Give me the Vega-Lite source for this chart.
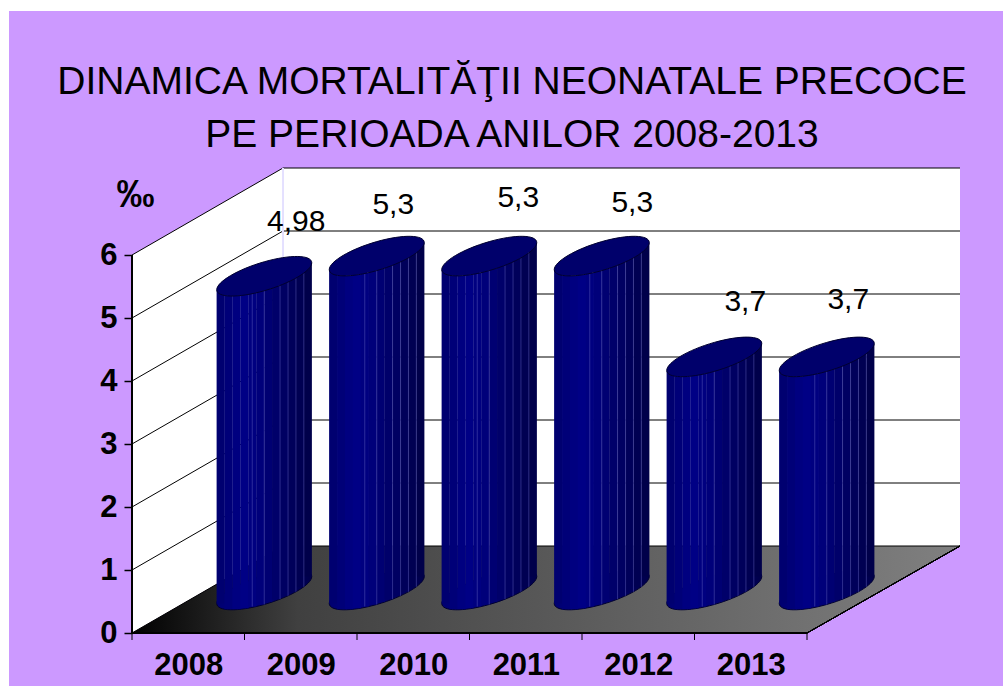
{"$schema":"https://vega.github.io/schema/vega-lite/v6.json","width":828,"height":465,"autosize":{"type":"none"},"padding":{"left":132,"top":168,"right":43,"bottom":53},"background":"#CC99FF","view":{"stroke":null},
"title":{"text":["DINAMICA MORTALITĂŢII NEONATALE PRECOCE","PE PERIOADA ANILOR 2008-2013"],"font":"Liberation Sans","fontSize":39,"fontWeight":"normal","color":"#000000","anchor":"middle","frame":"group","baseline":"bottom","dx":-34,"offset":-194,"lineHeight":53},
"data":{"values":[{"year":2008,"value":4.98,"label":"4,98"},{"year":2009,"value":5.3,"label":"5,3"},{"year":2010,"value":5.3,"label":"5,3"},{"year":2011,"value":5.3,"label":"5,3"},{"year":2012,"value":3.7,"label":"3,7"},{"year":2013,"value":3.7,"label":"3,7"}]},
"layer":[
{"mark":{"type":"rect","fill":"#ffffff","xOffset":-132,"x2Offset":43,"yOffset":-168,"y2Offset":-157},"encoding":{"x":{"datum":2007.5,"type":"quantitative","scale":{"domain":[2007.5,2014.86],"nice":false,"zero":false},"axis":{"values":[2008,2009,2010,2011,2012,2013],"format":"d","title":null,"domain":false,"ticks":false,"grid":false,"labelFont":"Liberation Sans","labelFontWeight":"bold","labelFontSize":31,"labelColor":"#000000","labelPadding":17,"labelOverlap":false,"labelFlush":false,"zindex":1}},"x2":{"datum":2014.86},"y":{"datum":7.381,"type":"quantitative","scale":{"domain":[0,7.381],"nice":false,"zero":false},"axis":{"values":[0,1,2,3,4,5,6],"format":"d","title":"‰","titleFont":"Liberation Sans","titleFontWeight":"bold","titleFontSize":38,"titleColor":"#000000","titleAngle":0,"titleX":3,"titleY":27,"titleAlign":"center","titleBaseline":"middle","domain":false,"grid":false,"tickColor":"#000000","tickSize":8,"tickWidth":1.5,"labelFont":"Liberation Sans","labelFontWeight":"bold","labelFontSize":31,"labelColor":"#000000","labelPadding":7,"labelOverlap":false,"labelFlush":false,"zindex":1}},"y2":{"datum":7.381}}},
{"mark":{"type":"rect","fill":"#ffffff","xOffset":-132,"x2Offset":-123,"yOffset":-168,"y2Offset":53},"encoding":{"x":{"datum":2007.5,"type":"quantitative"},"x2":{"datum":2007.5},"y":{"datum":7.381,"type":"quantitative"},"y2":{"datum":0}}},
{"mark":{"type":"rect","fill":"#ffffff"},"encoding":{"x":{"datum":2008.842,"type":"quantitative"},"x2":{"datum":2014.86},"y":{"datum":7.381,"type":"quantitative"},"y2":{"datum":1.381}}},
{"data":{"values":[{"x":2007.5,"top":6,"bottom":0},{"x":2008.842,"top":7.381,"bottom":1.381}]},"mark":{"type":"area","fill":"#ffffff"},"encoding":{"x":{"field":"x","type":"quantitative"},"y":{"field":"top","type":"quantitative"},"y2":{"field":"bottom"}}},
{"data":{"values":[{"x":2007.5,"top":0,"bottom":0},{"x":2008.842,"top":1.381,"bottom":0},{"x":2013.5,"top":1.381,"bottom":0},{"x":2014.86,"top":1.381,"bottom":1.381}]},"mark":{"type":"area","fill":{"gradient":"linear","x1":0,"y1":0,"x2":1,"y2":0,"stops":[{"offset":0,"color":"#000000"},{"offset":0.2,"color":"#404040"},{"offset":1,"color":"#808080"}]}},"encoding":{"x":{"field":"x","type":"quantitative"},"y":{"field":"top","type":"quantitative"},"y2":{"field":"bottom"}}},
{"data":{"values":[{"tick":0},{"tick":1},{"tick":2},{"tick":3},{"tick":4},{"tick":5},{"tick":6}]},"mark":{"type":"rule","color":"#000000","strokeWidth":1,"xOffset":151,"x2Offset":153,"yOffset":-87},"encoding":{"x":{"datum":2007.5,"type":"quantitative"},"x2":{"datum":2013.5},"y":{"field":"tick","type":"quantitative"}}},
{"data":{"values":[{"tick":0},{"tick":1},{"tick":2},{"tick":3},{"tick":4},{"tick":5},{"tick":6}]},"mark":{"type":"rule","color":"#000000","strokeWidth":1,"x2Offset":151,"y2Offset":-87},"encoding":{"x":{"datum":2007.5,"type":"quantitative"},"x2":{"datum":2007.5},"y":{"field":"tick","type":"quantitative"},"y2":{"field":"tick"}}},
{"mark":{"type":"rule","color":"#e4e0ff","strokeWidth":1,"xOffset":151,"yOffset":-87,"y2Offset":-87},"encoding":{"x":{"datum":2007.5,"type":"quantitative"},"y":{"datum":6,"type":"quantitative"},"y2":{"datum":0}}},
{"mark":{"type":"rule","color":"#000000","strokeWidth":1,"x2Offset":153,"y2Offset":-87},"encoding":{"x":{"datum":2013.5,"type":"quantitative"},"x2":{"datum":2013.5},"y":{"datum":0,"type":"quantitative"},"y2":{"datum":0}}},
{"mark":{"type":"rule","color":"#000000","strokeWidth":1.5},"encoding":{"x":{"datum":2007.5,"type":"quantitative"},"x2":{"datum":2013.5},"y":{"datum":0,"type":"quantitative"}}},
{"mark":{"type":"rule","color":"#000000","strokeWidth":1.5},"encoding":{"x":{"datum":2007.5,"type":"quantitative"},"y":{"datum":6,"type":"quantitative"},"y2":{"datum":0}}},
{"data":{"values":[{"edge":2007.5},{"edge":2008.5},{"edge":2009.5},{"edge":2010.5},{"edge":2011.5},{"edge":2012.5},{"edge":2013.5}]},"mark":{"type":"rule","color":"#000000","strokeWidth":1,"y2Offset":7},"encoding":{"x":{"field":"edge","type":"quantitative"},"y":{"datum":0,"type":"quantitative"},"y2":{"datum":0}}},
{"mark":{"type":"point","shape":"M1 -.284C1 -.1155 .5523 .1481 0 .305C-.5523 .4619 -1 .4525 -1 .284C-1 .1155 -.5523 -.1481 0 -.305C.5523 -.4619 1 -.4525 1 -.284Z","size":9025,"filled":true,"opacity":1,"fill":{"gradient":"linear","x1":0,"y1":0,"x2":1,"y2":0,"stops":[{"offset":0,"color":"#000070"},{"offset":0.3,"color":"#000085"},{"offset":1,"color":"#00004a"}]},"stroke":"#000030","strokeWidth":1,"xOffset":76,"yOffset":-43},"encoding":{"x":{"field":"year","type":"quantitative"},"y":{"datum":0,"type":"quantitative"}}},
{"mark":{"type":"rule","strokeCap":"butt","strokeWidth":8.2,"color":"#000070","xOffset":32.46,"yOffset":-29.51,"y2Offset":-29.51},"encoding":{"x":{"field":"year","type":"quantitative"},"y":{"field":"value","type":"quantitative"},"y2":{"datum":0}}},
{"mark":{"type":"rule","strokeCap":"butt","strokeWidth":8.2,"color":"#000078","xOffset":40.37,"yOffset":-23.74,"y2Offset":-23.74},"encoding":{"x":{"field":"year","type":"quantitative"},"y":{"field":"value","type":"quantitative"},"y2":{"datum":0}}},
{"mark":{"type":"rule","strokeCap":"butt","strokeWidth":8.2,"color":"#000080","xOffset":48.29,"yOffset":-23.69,"y2Offset":-23.69},"encoding":{"x":{"field":"year","type":"quantitative"},"y":{"field":"value","type":"quantitative"},"y2":{"datum":0}}},
{"mark":{"type":"rule","strokeCap":"butt","strokeWidth":8.2,"color":"#000085","xOffset":56.21,"yOffset":-24.83,"y2Offset":-24.83},"encoding":{"x":{"field":"year","type":"quantitative"},"y":{"field":"value","type":"quantitative"},"y2":{"datum":0}}},
{"mark":{"type":"rule","strokeCap":"butt","strokeWidth":8.2,"color":"#000080","xOffset":64.13,"yOffset":-26.45,"y2Offset":-26.45},"encoding":{"x":{"field":"year","type":"quantitative"},"y":{"field":"value","type":"quantitative"},"y2":{"datum":0}}},
{"mark":{"type":"rule","strokeCap":"butt","strokeWidth":8.2,"color":"#00007a","xOffset":72.04,"yOffset":-28.5,"y2Offset":-28.5},"encoding":{"x":{"field":"year","type":"quantitative"},"y":{"field":"value","type":"quantitative"},"y2":{"datum":0}}},
{"mark":{"type":"rule","strokeCap":"butt","strokeWidth":8.2,"color":"#000072","xOffset":79.96,"yOffset":-30.95,"y2Offset":-30.95},"encoding":{"x":{"field":"year","type":"quantitative"},"y":{"field":"value","type":"quantitative"},"y2":{"datum":0}}},
{"mark":{"type":"rule","strokeCap":"butt","strokeWidth":8.2,"color":"#00006a","xOffset":87.87,"yOffset":-33.83,"y2Offset":-33.83},"encoding":{"x":{"field":"year","type":"quantitative"},"y":{"field":"value","type":"quantitative"},"y2":{"datum":0}}},
{"mark":{"type":"rule","strokeCap":"butt","strokeWidth":8.2,"color":"#000062","xOffset":95.79,"yOffset":-37.19,"y2Offset":-37.19},"encoding":{"x":{"field":"year","type":"quantitative"},"y":{"field":"value","type":"quantitative"},"y2":{"datum":0}}},
{"mark":{"type":"rule","strokeCap":"butt","strokeWidth":8.2,"color":"#00005a","xOffset":103.71,"yOffset":-41.19,"y2Offset":-41.19},"encoding":{"x":{"field":"year","type":"quantitative"},"y":{"field":"value","type":"quantitative"},"y2":{"datum":0}}},
{"mark":{"type":"rule","strokeCap":"butt","strokeWidth":8.2,"color":"#000052","xOffset":111.63,"yOffset":-46.22,"y2Offset":-46.22},"encoding":{"x":{"field":"year","type":"quantitative"},"y":{"field":"value","type":"quantitative"},"y2":{"datum":0}}},
{"mark":{"type":"rule","strokeCap":"butt","strokeWidth":8.2,"color":"#00004a","xOffset":119.54,"yOffset":-56.49,"y2Offset":-56.49},"encoding":{"x":{"field":"year","type":"quantitative"},"y":{"field":"value","type":"quantitative"},"y2":{"datum":0}}},
{"mark":{"type":"rule","strokeWidth":1,"color":"#5a5ab8","opacity":0.5,"xOffset":64,"yOffset":-26.5,"y2Offset":-26.5},"encoding":{"x":{"field":"year","type":"quantitative"},"y":{"field":"value","type":"quantitative"},"y2":{"datum":0}}},
{"mark":{"type":"rule","strokeWidth":1,"color":"#5a5ab8","opacity":0.5,"xOffset":76,"yOffset":-28.5,"y2Offset":-28.5},"encoding":{"x":{"field":"year","type":"quantitative"},"y":{"field":"value","type":"quantitative"},"y2":{"datum":0}}},
{"mark":{"type":"rule","strokeWidth":1,"color":"#5a5ab8","opacity":0.5,"xOffset":91.8,"yOffset":-33.8,"y2Offset":-33.8},"encoding":{"x":{"field":"year","type":"quantitative"},"y":{"field":"value","type":"quantitative"},"y2":{"datum":0}}},
{"mark":{"type":"rule","strokeWidth":1,"color":"#5a5ab8","opacity":0.5,"xOffset":99.8,"yOffset":-37.2,"y2Offset":-37.2},"encoding":{"x":{"field":"year","type":"quantitative"},"y":{"field":"value","type":"quantitative"},"y2":{"datum":0}}},
{"mark":{"type":"rule","strokeWidth":1,"color":"#5a5ab8","opacity":0.5,"xOffset":107.7,"yOffset":-41.2,"y2Offset":-41.2},"encoding":{"x":{"field":"year","type":"quantitative"},"y":{"field":"value","type":"quantitative"},"y2":{"datum":0}}},
{"mark":{"type":"rule","strokeWidth":1,"color":"#5a5ab8","opacity":0.5,"xOffset":115.6,"yOffset":-46.2,"y2Offset":-46.2},"encoding":{"x":{"field":"year","type":"quantitative"},"y":{"field":"value","type":"quantitative"},"y2":{"datum":0}}},
{"mark":{"type":"point","shape":"M1 -.284C1 -.1155 .5523 .1481 0 .305C-.5523 .4619 -1 .4525 -1 .284C-1 .1155 -.5523 -.1481 0 -.305C.5523 -.4619 1 -.4525 1 -.284Z","size":9025,"filled":true,"opacity":1,"fill":"#00006b","stroke":"#000030","strokeWidth":1,"xOffset":76,"yOffset":-43},"encoding":{"x":{"field":"year","type":"quantitative"},"y":{"field":"value","type":"quantitative"}}},
{"transform":[{"filter":"datum.year==2008"}],"mark":{"type":"text","font":"Liberation Sans","fontSize":30,"color":"#000000","dx":108,"dy":-97,"baseline":"middle"},"encoding":{"x":{"field":"year","type":"quantitative"},"y":{"field":"value","type":"quantitative"},"text":{"field":"label"}}},
{"transform":[{"filter":"datum.year==2009"}],"mark":{"type":"text","font":"Liberation Sans","fontSize":30,"color":"#000000","dx":92.5,"dy":-94,"baseline":"middle"},"encoding":{"x":{"field":"year","type":"quantitative"},"y":{"field":"value","type":"quantitative"},"text":{"field":"label"}}},
{"transform":[{"filter":"datum.year==2010"}],"mark":{"type":"text","font":"Liberation Sans","fontSize":30,"color":"#000000","dx":105,"dy":-101,"baseline":"middle"},"encoding":{"x":{"field":"year","type":"quantitative"},"y":{"field":"value","type":"quantitative"},"text":{"field":"label"}}},
{"transform":[{"filter":"datum.year==2011"}],"mark":{"type":"text","font":"Liberation Sans","fontSize":30,"color":"#000000","dx":106.5,"dy":-96,"baseline":"middle"},"encoding":{"x":{"field":"year","type":"quantitative"},"y":{"field":"value","type":"quantitative"},"text":{"field":"label"}}},
{"transform":[{"filter":"datum.year==2012"}],"mark":{"type":"text","font":"Liberation Sans","fontSize":30,"color":"#000000","dx":107,"dy":-98,"baseline":"middle"},"encoding":{"x":{"field":"year","type":"quantitative"},"y":{"field":"value","type":"quantitative"},"text":{"field":"label"}}},
{"transform":[{"filter":"datum.year==2013"}],"mark":{"type":"text","font":"Liberation Sans","fontSize":30,"color":"#000000","dx":97.5,"dy":-100,"baseline":"middle"},"encoding":{"x":{"field":"year","type":"quantitative"},"y":{"field":"value","type":"quantitative"},"text":{"field":"label"}}}
]}
